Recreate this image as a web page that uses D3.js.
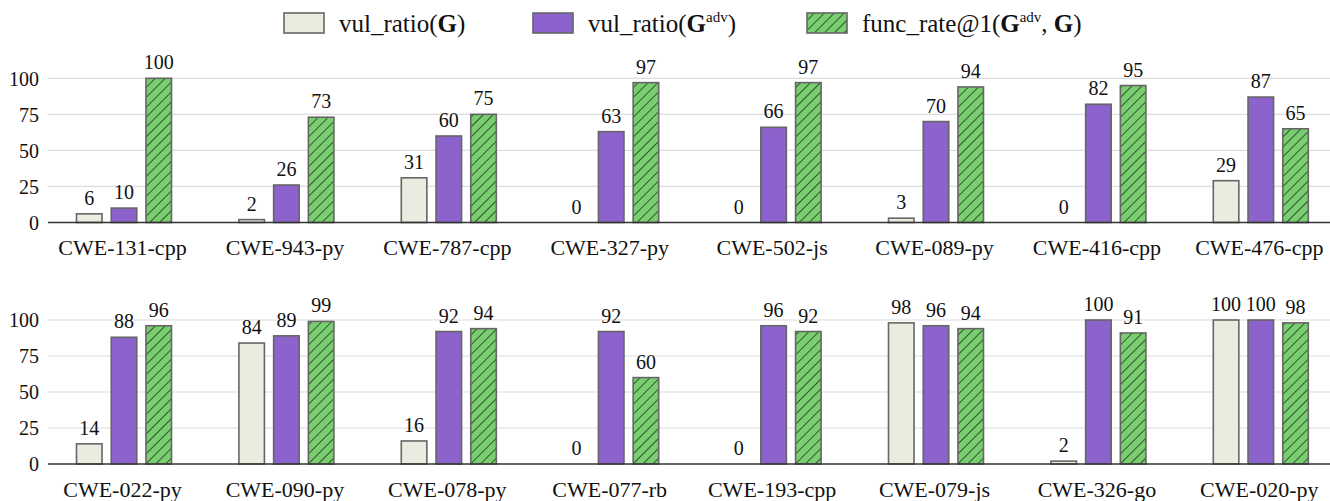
<!DOCTYPE html>
<html>
<head>
<meta charset="utf-8">
<script src="https://cdn.jsdelivr.net/npm/d3@7"></script>
<style>
  body { margin: 0; background: #fff; }
  svg { display: block; }
  svg text { font-family: "Liberation Serif", "Times New Roman", serif; }
</style>
</head>
<body>
<svg id="chart" width="1330" height="501"></svg>
<script>
// data
var top_cats = ["CWE-131-cpp", "CWE-943-py", "CWE-787-cpp", "CWE-327-py", "CWE-502-js", "CWE-089-py", "CWE-416-cpp", "CWE-476-cpp"];
var top_vul = [6, 2, 31, 0, 0, 3, 0, 29];
var top_vul_adv = [10, 26, 60, 63, 66, 70, 82, 87];
var top_func = [100, 73, 75, 97, 97, 94, 95, 65];

var bot_cats = ["CWE-022-py", "CWE-090-py", "CWE-078-py", "CWE-077-rb", "CWE-193-cpp", "CWE-079-js", "CWE-326-go", "CWE-020-py"];
var bot_vul = [14, 84, 16, 0, 0, 98, 2, 100];
var bot_vul_adv = [88, 89, 92, 92, 96, 96, 100, 100];
var bot_func = [96, 99, 94, 60, 92, 94, 91, 98];

var series_keys = ["vul", "vul_adv", "func"];
var y_ticks = [0, 25, 50, 75, 100];

var colors = { vul: "#ebebdf", vul_adv: "#8c62cc", func: "#79cf70" };

var svg = d3.select("#chart");

// hatch for the green bars
var defs = svg.append("defs");
var pat = defs.append("pattern")
	.attr("id", "hatch")
	.attr("patternUnits", "userSpaceOnUse")
	.attr("width", 7)
	.attr("height", 7)
	.attr("patternTransform", "rotate(45)");
pat.append("rect").attr("width", 7).attr("height", 7).attr("fill", colors.func);
pat.append("line")
	.attr("x1", 0).attr("y1", 0).attr("x2", 0).attr("y2", 7)
	.attr("stroke", "#111").attr("stroke-width", 1.3);

function fillFor(k) { return k == "func" ? "url(#hatch)" : colors[k]; }

// draw one panel
function drawPanel(cats, vul, vul_adv, func, y0, y100) {
	var x = d3.scaleBand().domain(cats).range([42.8, 42.8 + 8 * 162.4]);
	var xs = d3.scaleBand().domain(series_keys).range([-47.5, 47.5]).paddingInner(0.265);
	var y = d3.scaleLinear().domain([0, 100]).range([y0, y100]);

	var g = svg.append("g");

	// gridlines
	g.selectAll("line.grid")
		.data(y_ticks.filter(function(t) { return t > 0; }))
		.enter().append("line")
		.attr("class", "grid")
		.attr("x1", 48).attr("x2", 1330)
		.attr("y1", function(d) { return y(d); })
		.attr("y2", function(d) { return y(d); })
		.attr("stroke", "#dcdcdc")
		.attr("stroke-width", 1.2);

	// y axis labels
	var yAxis = d3.axisLeft(y).tickValues(y_ticks).tickSize(0).tickPadding(0);
	var ya = g.append("g").attr("transform", "translate(39,0)").call(yAxis);
	ya.attr("font-family", null).attr("font-size", null);
	ya.select(".domain").remove();
	ya.selectAll("text")
		.attr("font-size", 20)
		.attr("fill", "#111")
		.attr("dy", "0.34em");

	var rows = cats.map(function(c, i) {
		return { cat: c, vul: vul[i], vul_adv: vul_adv[i], func: func[i] };
	});

	var groups = g.selectAll("g.grp")
		.data(rows)
		.enter().append("g")
		.attr("class", "grp")
		.attr("transform", function(d) { return "translate(" + (x(d.cat) + x.bandwidth() / 2) + ",0)"; });

	var bars = groups.selectAll("g.bar")
		.data(function(d) { return series_keys.map(function(k) { return { key: k, value: d[k] }; }); })
		.enter().append("g")
		.attr("class", "bar");

	bars.filter(function(d) { return d.value > 0; })
		.append("rect")
		.attr("x", function(d) { return xs(d.key); })
		.attr("width", xs.bandwidth())
		.attr("y", function(d) { return y(d.value); })
		.attr("height", function(d) { return y0 - y(d.value); })
		.attr("fill", function(d) { return fillFor(d.key); })
		.attr("stroke", "#666")
		.attr("stroke-width", 1.6);

	bars.append("text")
		.attr("x", function(d) { return xs(d.key) + xs.bandwidth() / 2; })
		.attr("y", function(d) { return y(d.value) - 9; })
		.attr("text-anchor", "middle")
		.attr("font-size", 20)
		.attr("fill", "#111")
		.text(function(d) { return d.value; });

	// baseline
	g.append("line")
		.attr("x1", 48).attr("x2", 1330)
		.attr("y1", y0).attr("y2", y0)
		.attr("stroke", "#333")
		.attr("stroke-width", 1.4);

	// category labels
	g.selectAll("text.cat")
		.data(cats)
		.enter().append("text")
		.attr("class", "cat")
		.attr("x", function(d) { return x(d) + x.bandwidth() / 2 - 1.5; })
		.attr("y", y0 + 32.5)
		.attr("text-anchor", "middle")
		.attr("font-size", 22)
		.attr("fill", "#111")
		.text(function(d) { return d; });
}

drawPanel(top_cats, top_vul, top_vul_adv, top_func, 222.5, 78.3);
drawPanel(bot_cats, bot_vul, bot_vul_adv, bot_func, 464, 320);

// legend
var legend_items = [
	{ key: "vul", x: 284, parts: [["vul_ratio(", "n"], ["G", "b"], [")", "n"]] },
	{ key: "vul_adv", x: 533, parts: [["vul_ratio(", "n"], ["G", "b"], ["adv", "s"], [")", "n"]] },
	{ key: "func", x: 807, parts: [["func_rate@1(", "n"], ["G", "b"], ["adv", "s"], [", ", "n"], ["G", "b"], [")", "n"]] }
];

var legend = svg.selectAll("g.legend")
	.data(legend_items)
	.enter().append("g")
	.attr("class", "legend")
	.attr("transform", function(d) { return "translate(" + d.x + ",0)"; });

legend.append("rect")
	.attr("x", 0).attr("y", 13)
	.attr("width", 40).attr("height", 20)
	.attr("fill", function(d) { return fillFor(d.key); })
	.attr("stroke", "#666")
	.attr("stroke-width", 1.6);

legend.append("text")
	.attr("x", 55)
	.attr("y", 32)
	.attr("font-size", 25)
	.attr("fill", "#111")
	.each(function(d) {
		var t = d3.select(this);
		var raised = false;
		d.parts.forEach(function(p) {
			var ts = t.append("tspan").text(p[0]);
			if (p[1] == "b") ts.attr("font-weight", "bold");
			if (p[1] == "s") {
				ts.attr("font-size", 15).attr("dy", -10);
				raised = true;
			} else if (raised) {
				ts.attr("dy", 10);
				raised = false;
			}
		});
	});
</script>
</body>
</html>
